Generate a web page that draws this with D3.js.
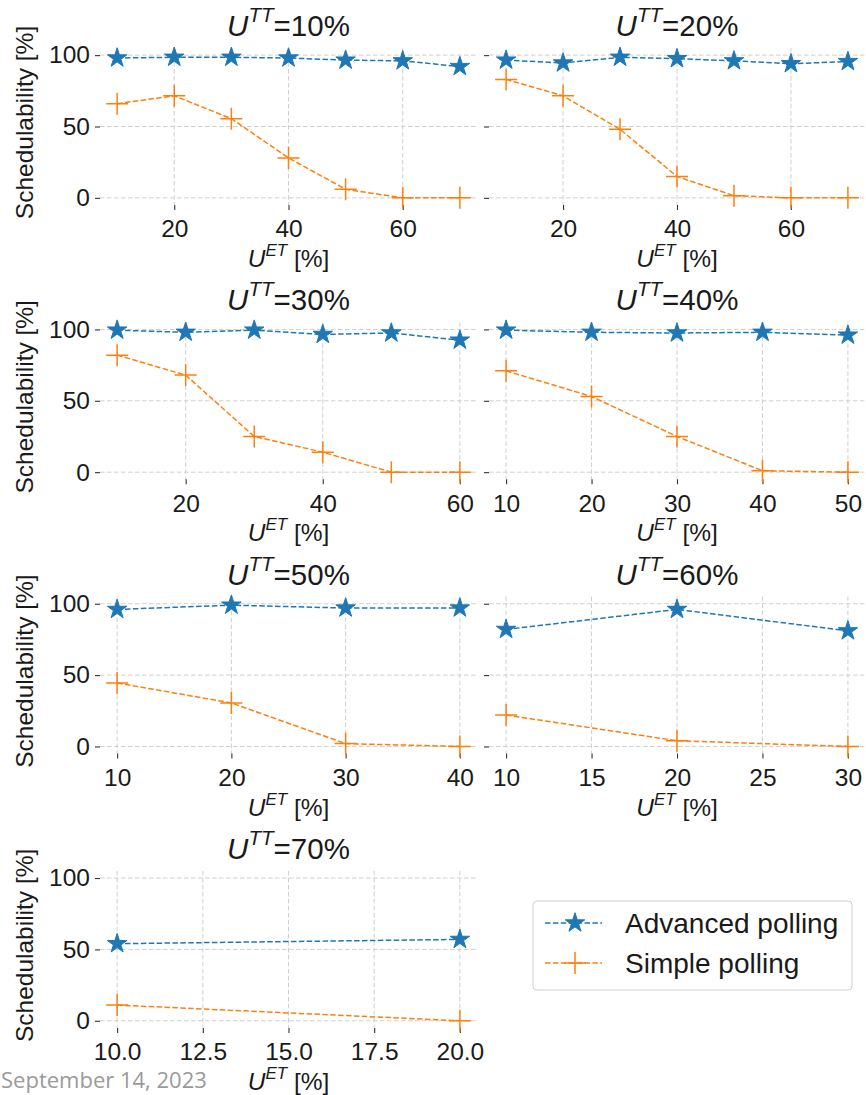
<!DOCTYPE html>
<html lang="en">
<head>
<meta charset="utf-8">
<title>Schedulability vs U_ET</title>
<script src="https://cdn.jsdelivr.net/npm/d3@7"></script>
<style>
  body { margin: 0; background: #fff; }
  text { font-family: "Liberation Sans", Arial, sans-serif; fill: #1a1a1a; }
</style>
</head>
<body>
<script>
// panel values: U^TT in %
var uTT = [10, 20, 30, 40, 50, 60, 70];

// U^ET points per panel
var uET = [
  [10, 20, 30, 40, 50, 60, 70],
  [10, 20, 30, 40, 50, 60, 70],
  [10, 20, 30, 40, 50, 60],
  [10, 20, 30, 40, 50],
  [10, 20, 30, 40],
  [10, 20, 30],
  [10, 20]
];

// schedulability [%]
var advanced = [
  [98, 98.5, 98.5, 98, 96.5, 96, 92],
  [96.5, 94.5, 98.5, 97.5, 96, 94, 95.5],
  [99.5, 98, 99.5, 96.5, 97.5, 92.5],
  [99.5, 98, 97.5, 98, 96],
  [96, 99, 97, 97],
  [82, 96, 81],
  [54, 57]
];
var simple = [
  [66, 71.5, 55.5, 28, 6, 0, 0],
  [83, 71.5, 48, 15, 1.5, 0, 0],
  [82, 68, 25, 14, 0, 0],
  [71, 53, 25, 1, 0],
  [44.5, 30.5, 2, 0],
  [22, 4, 0],
  [11, 0]
];

var xTicks = [
  [20, 40, 60],
  [20, 40, 60],
  [20, 40, 60],
  [10, 20, 30, 40, 50],
  [10, 20, 30, 40],
  [10, 15, 20, 25, 30],
  [10, 12.5, 15, 17.5, 20]
];
var yTicks = [0, 50, 100];

var seriesNames = ["Advanced polling", "Simple polling"];
var colors = ["#1f77b4", "#ff7f0e"];

var w = 866, h = 1095;
var colX = [[100, 477], [489, 865]];
var rowPitch = 274.3, top0 = 48, axH = 157;

var svg = d3.select("body").append("svg")
  .attr("width", w).attr("height", h);

var star = d3.symbol().type(d3.symbolStar).size(118);

function plusPath(s) {
  return "M" + (-s) + ",0H" + s + "M0," + (-s) + "V" + s;
}

uTT.forEach(function(tt, i) {
  var col = i % 2, row = Math.floor(i / 2);
  var x0 = colX[col][0], x1 = colX[col][1];
  var top = top0 + row * rowPitch, bottom = top + axH;

  var ext = d3.extent(uET[i]);
  var pad = (ext[1] - ext[0]) * 0.05;
  var x = d3.scaleLinear().domain([ext[0] - pad, ext[1] + pad]).range([x0, x1]);
  var y = d3.scaleLinear().domain([-5, 105]).range([bottom, top]);

  var g = svg.append("g");

  // grid
  g.selectAll(".hg").data(yTicks).enter().append("line")
    .attr("x1", x0).attr("x2", x1)
    .attr("y1", function(d) { return y(d); }).attr("y2", function(d) { return y(d); })
    .attr("stroke", "#cfcfcf").attr("stroke-width", 1).attr("stroke-dasharray", "4.5,2.5");
  g.selectAll(".vg").data(xTicks[i]).enter().append("line")
    .attr("y1", top).attr("y2", bottom)
    .attr("x1", function(d) { return x(d); }).attr("x2", function(d) { return x(d); })
    .attr("stroke", "#cfcfcf").attr("stroke-width", 1).attr("stroke-dasharray", "4.5,2.5");

  // axes
  var fmtX = xTicks[i].some(function(v) { return v % 1 !== 0; }) ? d3.format(".1f") : d3.format("d");
  var yAxis = d3.axisLeft(y).tickValues(yTicks).tickSize(5).tickPadding(5)
    .tickFormat(col === 0 ? d3.format("d") : "");
  var ya = g.append("g").attr("transform", "translate(" + x0 + ",0)").call(yAxis);
  var xAxis = d3.axisBottom(x).tickValues(xTicks[i]).tickSize(5).tickPadding(10).tickFormat(fmtX);
  var xa = g.append("g").attr("transform", "translate(0," + bottom + ")").call(xAxis);
  [ya, xa].forEach(function(a) {
    a.select(".domain").remove();
    a.selectAll(".tick line").attr("stroke", "#333").attr("stroke-width", 1.1);
    a.selectAll(".tick text").attr("font-size", 24.5).attr("fill", "#1a1a1a")
      .attr("font-family", "Liberation Sans, Arial, sans-serif");
  });

  // lines + markers
  [advanced[i], simple[i]].forEach(function(vals, s) {
    var pts = uET[i].map(function(u, k) { return [u, vals[k]]; });
    var line = d3.line().x(function(d) { return x(d[0]); }).y(function(d) { return y(d[1]); });
    g.append("path").datum(pts).attr("d", line)
      .attr("fill", "none").attr("stroke", colors[s]).attr("stroke-width", 1.5)
      .attr("stroke-dasharray", "5.5,2.4");
    g.selectAll(".m" + s).data(pts).enter().append("path")
      .attr("transform", function(d) { return "translate(" + x(d[0]) + "," + y(d[1]) + ")"; })
      .attr("d", s === 0 ? star() : plusPath(11))
      .attr("fill", s === 0 ? colors[0] : "none")
      .attr("stroke", colors[s]).attr("stroke-width", s === 0 ? 1 : 1.5)
      .attr("stroke-linejoin", "round");
  });

  // title
  var cx = (x0 + x1) / 2;
  var t = g.append("text").attr("x", cx).attr("y", top - 12)
    .attr("text-anchor", "middle").attr("font-size", 29.5);
  t.append("tspan").attr("font-style", "italic").text("U");
  t.append("tspan").attr("font-style", "italic").attr("font-size", 20.6).attr("dy", -14).text("TT");
  t.append("tspan").attr("dy", 14).text("=" + tt + "%");

  // x label
  var xl = g.append("text").attr("x", cx).attr("y", bottom + 62)
    .attr("text-anchor", "middle").attr("font-size", 24.5);
  xl.append("tspan").attr("font-style", "italic").text("U");
  xl.append("tspan").attr("font-style", "italic").attr("font-size", 17).attr("dy", -11).text("ET");
  xl.append("tspan").attr("dy", 11).text(" [%]");

  // y label
  if (col === 0) {
    g.append("text")
      .attr("transform", "translate(33," + ((top + bottom) / 2 - 4) + ") rotate(-90)")
      .attr("text-anchor", "middle").attr("font-size", 24.5)
      .text("Schedulability [%]");
  }
});

// legend
var lg = svg.append("g").attr("transform", "translate(533,901)");
lg.append("rect").attr("width", 319).attr("height", 89).attr("rx", 4)
  .attr("fill", "#fff").attr("stroke", "#d0d0d0").attr("stroke-width", 1);
seriesNames.forEach(function(name, s) {
  var yy = 22 + s * 40;
  lg.append("line").attr("x1", 12).attr("x2", 69).attr("y1", yy).attr("y2", yy)
    .attr("stroke", colors[s]).attr("stroke-width", 1.5).attr("stroke-dasharray", "5.5,2.4");
  lg.append("path").attr("transform", "translate(42," + yy + ")")
    .attr("d", s === 0 ? star() : plusPath(11))
    .attr("fill", s === 0 ? colors[0] : "none")
    .attr("stroke", colors[s]).attr("stroke-width", s === 0 ? 1 : 1.5);
  lg.append("text").attr("x", 92).attr("y", yy + 10).attr("font-size", 28).text(name);
});

// footer date
svg.append("text").attr("x", 1).attr("y", 1088)
  .attr("font-size", 22).style("font-family", "'Open Sans', sans-serif")
  .style("fill", "#9a9a9a").text("September 14, 2023");
</script>
</body>
</html>
